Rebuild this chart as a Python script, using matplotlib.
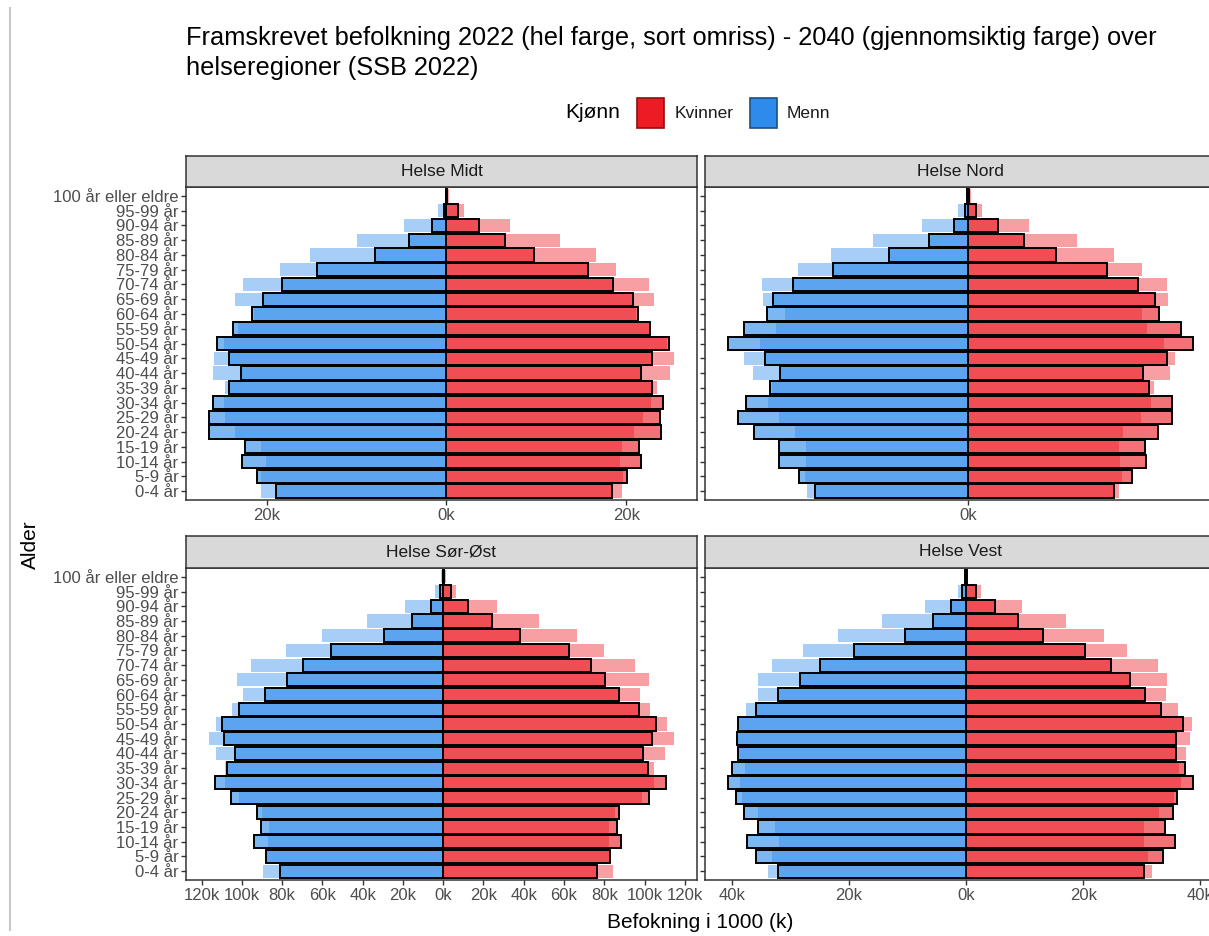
import numpy as np
import matplotlib
matplotlib.use('Agg')
from matplotlib import pyplot as plt
from matplotlib.patches import Rectangle
from matplotlib.lines import Line2D

plt.rcParams['font.family'] = ['Liberation Sans', 'DejaVu Sans']

ages = ['0-4 år', '5-9 år', '10-14 år', '15-19 år', '20-24 år', '25-29 år', '30-34 år',
        '35-39 år', '40-44 år', '45-49 år', '50-54 år', '55-59 år', '60-64 år', '65-69 år',
        '70-74 år', '75-79 år', '80-84 år', '85-89 år', '90-94 år', '95-99 år',
        '100 år eller eldre']
regions = ['Helse Midt', 'Helse Nord', 'Helse Sør-Øst', 'Helse Vest']

# befolkning i 1000, fra 0-4 år til 100+
midt_menn_2022 = [19.0, 21.1, 22.8, 22.4, 26.4, 26.4, 26.0, 24.2, 22.9, 24.2, 25.5, 23.8, 21.6, 20.4, 18.3, 14.4, 7.9, 4.2, 1.6, 0.26, 0.05]
midt_menn_2040 = [20.6, 20.6, 20.1, 20.6, 23.5, 24.7, 24.8, 24.7, 26.0, 25.9, 24.8, 23.2, 21.4, 23.5, 22.6, 18.5, 15.2, 9.9, 4.7, 0.9, 0.15]
midt_kvinner_2022 = [18.4, 20.1, 21.7, 21.4, 23.9, 23.8, 24.1, 22.9, 21.7, 22.9, 24.8, 22.6, 21.3, 20.8, 18.5, 15.7, 9.7, 6.5, 3.6, 1.24, 0.1]
midt_kvinner_2040 = [19.5, 19.7, 19.3, 19.5, 20.9, 21.9, 22.8, 23.4, 24.9, 25.3, 24.5, 22.5, 21.1, 23.1, 22.5, 18.9, 16.6, 12.6, 7.05, 1.9, 0.3]

nord_menn_2022 = [10.5, 11.65, 13.0, 13.0, 14.7, 15.8, 15.3, 13.6, 12.9, 14.0, 16.5, 15.4, 13.8, 13.4, 12.05, 9.3, 5.4, 2.65, 0.97, 0.16, 0.03]
nord_menn_2040 = [11.1, 11.2, 11.15, 11.15, 11.9, 13.0, 13.75, 13.5, 14.8, 15.4, 14.3, 13.2, 12.6, 14.1, 14.2, 11.7, 9.4, 6.5, 3.16, 0.67, 0.1]
nord_kvinner_2022 = [10.1, 11.3, 12.3, 12.2, 13.1, 14.1, 14.1, 12.5, 12.05, 13.75, 15.5, 14.7, 13.2, 12.9, 11.7, 9.6, 6.1, 3.9, 2.05, 0.58, 0.08]
nord_kvinner_2040 = [10.4, 10.6, 10.5, 10.4, 10.7, 11.9, 12.65, 12.8, 13.9, 14.3, 13.5, 12.35, 12.0, 13.8, 13.7, 12.0, 10.1, 7.5, 4.2, 1.0, 0.2]

soro_menn_2022 = [81.3, 88.0, 93.8, 90.6, 92.6, 105.4, 113.5, 107.2, 103.2, 108.7, 110.0, 101.2, 88.6, 77.8, 69.7, 55.5, 29.6, 15.6, 6.2, 1.7, 0.3]
soro_menn_2040 = [89.5, 87.8, 86.8, 86.5, 89.8, 101.5, 108.5, 108.2, 112.9, 116.2, 112.9, 104.8, 99.5, 102.3, 95.7, 78.1, 60.0, 38.0, 19.2, 4.2, 1.0]
soro_kvinner_2022 = [76.4, 82.9, 88.3, 86.1, 87.5, 102.2, 110.4, 101.8, 99.2, 103.8, 105.5, 97.0, 87.1, 80.3, 73.6, 62.4, 38.1, 24.1, 12.5, 3.8, 0.6]
soro_kvinner_2040 = [84.1, 82.4, 82.1, 82.1, 85.3, 98.8, 104.7, 104.5, 110.0, 114.5, 111.2, 102.8, 97.8, 102.0, 95.3, 79.9, 66.6, 47.7, 26.9, 6.4, 1.5]

vest_menn_2022 = [32.1, 35.8, 37.4, 35.5, 37.9, 39.3, 40.6, 39.9, 39.0, 39.1, 39.0, 35.8, 32.1, 28.4, 25.0, 19.1, 10.5, 5.7, 2.5, 0.7, 0.1]
vest_menn_2040 = [33.8, 33.2, 31.9, 32.7, 35.6, 38.2, 38.6, 37.8, 38.9, 39.3, 38.9, 37.5, 35.5, 35.5, 33.2, 27.9, 21.9, 14.3, 7.0, 1.4, 0.3]
vest_kvinner_2022 = [30.4, 33.7, 35.6, 34.0, 35.3, 36.0, 38.7, 37.4, 35.8, 35.8, 37.0, 33.3, 30.6, 28.0, 24.8, 20.3, 13.1, 8.8, 4.9, 1.7, 0.15]
vest_kvinner_2040 = [31.8, 31.1, 30.3, 30.4, 33.0, 35.5, 36.7, 36.4, 37.5, 38.2, 38.5, 36.1, 34.1, 34.3, 32.7, 27.4, 23.6, 17.1, 9.5, 2.5, 0.4]

data = {
    'Helse Midt': (midt_menn_2022, midt_menn_2040, midt_kvinner_2022, midt_kvinner_2040),
    'Helse Nord': (nord_menn_2022, nord_menn_2040, nord_kvinner_2022, nord_kvinner_2040),
    'Helse Sør-Øst': (soro_menn_2022, soro_menn_2040, soro_kvinner_2022, soro_kvinner_2040),
    'Helse Vest': (vest_menn_2022, vest_menn_2040, vest_kvinner_2022, vest_kvinner_2040),
}

red = '#ED1C24'
blue = '#2E8BEB'

W, H = 1209, 936
fig = plt.figure(figsize=(W/100, H/100), dpi=100)

def rect(x0, y0, x1, y1):
    return [x0/W, 1 - y1/H, (x1 - x0)/W, (y1 - y0)/H]

# panel boxes in pixels: (x0, x1, strip_top, plot_top, plot_bottom)
boxes = {
    'Helse Midt': (186, 697, 156, 187, 500),
    'Helse Nord': (705, 1216, 156, 187, 500),
    'Helse Sør-Øst': (186, 697, 536, 568, 880),
    'Helse Vest': (705, 1216, 536, 568, 880),
}

y = np.arange(len(ages))
breaks = np.arange(-120, 121, 20)

for reg in regions:
    m22, m40, k22, k40 = [np.array(v) for v in data[reg]]
    x0, x1, st, pt, pb = boxes[reg]
    ax = fig.add_axes(rect(x0, pt, x1, pb))
    # 2040 first (light, no outline), 2022 on top with black outline
    ax.barh(y, -m40, height=0.9, color=blue, alpha=0.42, linewidth=0)
    ax.barh(y, k40, height=0.9, color=red, alpha=0.42, linewidth=0)
    ax.barh(y, -m22, height=0.9, color=blue, alpha=0.62, linewidth=0)
    ax.barh(y, k22, height=0.9, color=red, alpha=0.62, linewidth=0)
    ax.barh(y, -m22, height=0.9, fill=False, edgecolor='black', linewidth=1.4)
    ax.barh(y, k22, height=0.9, fill=False, edgecolor='black', linewidth=1.4)

    lo = -max(m22.max(), m40.max())
    hi = max(k22.max(), k40.max())
    pad = 0.05 * (hi - lo)
    ax.set_xticks(breaks)
    ax.set_xticklabels([f'{abs(b)}k' for b in breaks])
    ax.set_xlim(lo - pad, hi + pad)
    ax.set_ylim(-0.6, len(ages) - 0.4)
    ax.set_yticks(y)
    if x0 < 300:
        ax.set_yticklabels(ages)
    else:
        ax.set_yticklabels([])
        ax.tick_params(axis='y', length=0)
    ax.tick_params(axis='both', colors='#333333', labelcolor='#4D4D4D', labelsize=12,
                   length=3.5, width=1, pad=2)
    for s in ax.spines.values():
        s.set_color('#333333')
        s.set_linewidth(1.1)

    sax = fig.add_axes(rect(x0, st, x1, pt))
    sax.set_facecolor('#D9D9D9')
    sax.set_xticks([])
    sax.set_yticks([])
    for s in sax.spines.values():
        s.set_color('#333333')
        s.set_linewidth(1.1)
    sax.text(0.5, 0.5, reg, ha='center', va='center', fontsize=12.5, color='#1A1A1A',
             transform=sax.transAxes)

# title
fig.text(186/W, 1 - 26/H,
         'Framskrevet befolkning 2022 (hel farge, sort omriss) - 2040 (gjennomsiktig farge) over\nhelseregioner (SSB 2022)',
         ha='left', va='top', fontsize=18.3, color='black', linespacing=1.3)

# legend
fig.text(565/W, 1 - 113/H, 'Kjønn', ha='left', va='center', fontsize=15, color='black')
fig.patches.append(Rectangle((637/W, 1 - 128/H), 27/W, 30/H, transform=fig.transFigure,
                             facecolor=red, edgecolor='#8B1010', linewidth=1.2))
fig.text(675/W, 1 - 113/H, 'Kvinner', ha='left', va='center', fontsize=12.5, color='#1A1A1A')
fig.patches.append(Rectangle((750/W, 1 - 128/H), 27/W, 30/H, transform=fig.transFigure,
                             facecolor=blue, edgecolor='#1F4F80', linewidth=1.2))
fig.text(787/W, 1 - 113/H, 'Menn', ha='left', va='center', fontsize=12.5, color='#1A1A1A')

# axis titles
fig.text(30/W, 1 - 545/H, 'Alder', ha='center', va='center', rotation=90, fontsize=15)
fig.text(700/W, 1 - 922/H, 'Befokning i 1000 (k)', ha='center', va='center', fontsize=15)

# thin grey page border on the left
fig.lines.append(Line2D([9.5/W, 9.5/W], [1 - 8/H, 1 - 930/H], transform=fig.transFigure,
                        color='#C8C8C8', linewidth=1.5))

fig.savefig('out.png', dpi=100)
